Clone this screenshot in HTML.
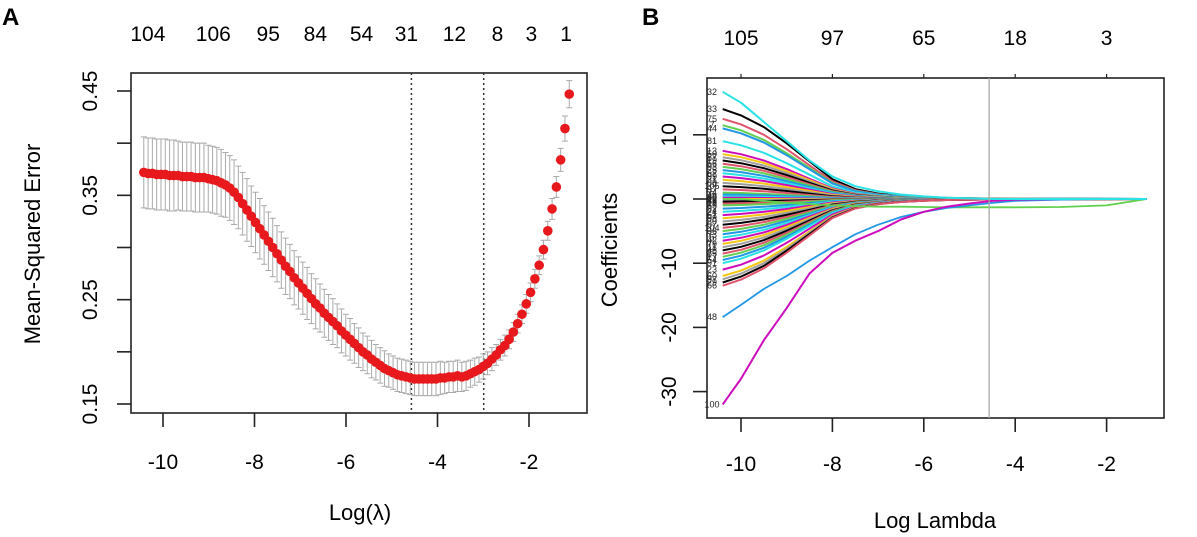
<!DOCTYPE html>
<html><head><meta charset="utf-8"><style>
html,body{margin:0;padding:0;background:#fff;}
svg{display:block;font-family:"Liberation Sans",Arial,sans-serif;}
</style></head><body>
<svg id="fig" width="1197" height="537" viewBox="0 0 1197 537">
<text x="2" y="25" font-size="24" font-weight="bold">A</text>
<text x="642" y="25" font-size="24" font-weight="bold">B</text>
<g id="pa"></g>
<g id="pb"></g>
</svg>
<script>
// ---------- Panel A data ----------
const mseVals=[0.372,0.371,0.371,0.370,0.370,0.370,0.369,0.369,0.369,0.368,0.368,0.368,0.367,0.367,0.367,0.366,
0.365,0.364,0.362,0.360,0.357,0.353,0.348,0.342,0.336,0.330,0.324,0.318,0.312,0.306,0.300,0.294,0.288,0.282,0.277,
0.271,0.266,0.261,0.256,0.251,0.246,0.242,0.237,0.233,0.229,0.225,0.220,0.216,0.212,0.208,0.204,0.200,0.197,0.193,
0.190,0.187,0.184,0.182,0.180,0.178,0.177,0.176,0.175,0.174,0.174,0.174,0.174,0.174,0.174,0.175,0.175,0.176,0.176,
0.177,0.176,0.177,0.179,0.181,0.183,0.186,0.189,0.193,0.197,0.202,0.206,0.212,0.219,0.227,0.236,0.246,0.257,0.270,
0.283,0.298,0.316,0.337,0.358,0.384,0.414,0.447];
const seVals=[0.034,0.034,0.034,0.034,0.034,0.034,0.034,0.034,0.033,0.033,0.033,0.033,0.033,0.033,0.033,0.032,
0.032,0.032,0.032,0.031,0.031,0.031,0.030,0.030,0.030,0.029,0.029,0.029,0.028,0.028,0.028,0.027,0.027,0.027,0.026,
0.026,0.025,0.025,0.025,0.024,0.024,0.023,0.023,0.022,0.022,0.021,0.021,0.020,0.020,0.019,0.019,0.018,0.018,0.018,
0.017,0.017,0.017,0.016,0.016,0.016,0.016,0.016,0.016,0.016,0.016,0.016,0.016,0.016,0.016,0.016,0.015,0.015,0.015,
0.015,0.014,0.014,0.013,0.013,0.012,0.012,0.011,0.011,0.010,0.010,0.010,0.009,0.009,0.009,0.009,0.009,0.009,0.009,
0.009,0.009,0.009,0.010,0.010,0.011,0.012,0.013,0.015];
const lamStart=-10.42, lamEnd=-1.12;
const aXTicks=[-10,-8,-6,-4,-2];
const aYTicks=[0.15,0.25,0.35,0.45];
const aYMinor=[0.20,0.30,0.40];
const aTopLabels=["104","106","95","84","54","31","12","8","3","1"];
const aTopPos=[-10.33,-8.9,-7.7,-6.67,-5.66,-4.68,-3.63,-2.69,-1.95,-1.19];
const aVlines=[-4.57,-2.99];

// ---------- Panel B data ----------
const bGrid=[-10.4,-10,-9.5,-9,-8.5,-8,-7.5,-7,-6.5,-6,-5.5,-5,-4.5,-4,-3,-2,-1.12];
const bProfile=[1,0.93,0.8,0.62,0.42,0.22,0.11,0.06,0.035,0.02,0.012,0.008,0.005,0.003,0.002,0.001,0];
const bStarts=[14,12.5,11.5,11,9,7.5,7,6.5,6,5.5,5,4.5,4,3.5,3,2.5,2,1.5,1,0.7,0.4,0.2,0,-0.2,-0.4,-0.7,-1,-1.5,-2,-2.5,-3,-3.5,-4,-4.5,-5,-5.5,-6,-6.5,-7,-7.5,-8,-8.5,-9,-9.5,-10,-11,-12,-12.5,-13,-13.5];
const bSpecialMagenta=[-32,-28,-22,-17,-11.6,-8.4,-6.5,-5,-3.2,-2,-1.2,-0.7,-0.3,-0.1,0,0,0];
const bSpecialTeal=[-18.4,-16.5,-14,-12,-9.6,-7.5,-5.5,-4,-2.8,-2,-1.4,-1,-0.6,-0.3,-0.1,0,0];
const bSpecialGreen=[0,0,-0.3,-0.6,-0.8,-1,-1.1,-1.2,-1.2,-1.25,-1.3,-1.3,-1.3,-1.3,-1.25,-1,0];
const bSpecialCyan=[16.7,15,12,9,6,3.5,2,1.2,0.7,0.4,0.2,0.1,0,0,0,0,0];
const bXTicks=[-10,-8,-6,-4,-2];
const bYTicks=[-30,-20,-10,0,10];
const bTopLabels=["105","97","65","18","3"];
const bVline=-4.57;
const palette=["black","#DF536B","#61D04F","#2297E6","#28E2E5","#CD0BBC","#F5C710","#9e9e9e"];

const NS="http://www.w3.org/2000/svg";
function mk(parent,tag,attrs,txt){const e=document.createElementNS(NS,tag);for(const k in attrs)e.setAttribute(k,attrs[k]);if(txt!==undefined)e.textContent=txt;parent.appendChild(e);return e;}

// ---------- Panel A ----------
(function(){
const g=document.getElementById('pa');
const L=131,R=587,T=73,B=413;
const ax=v=>163+(v+10)*45.75;
const ay=v=>91+(0.45-v)/0.3*313;
const box=mk(g,'rect',{x:L,y:T,width:R-L,height:B-T,fill:'none',stroke:'#222','stroke-width':1.6});


aXTicks.forEach(t=>{
  const l=mk(g,'line',{x1:ax(t),x2:ax(t),y1:B,y2:B+14,stroke:'#222','stroke-width':1.6});
  
  
  const tx=mk(g,'text',{x:ax(t),y:B+56,'font-size':21,'text-anchor':'middle'},String(t));
  
  
});
aYTicks.concat(aYMinor).forEach(t=>{
  const l=mk(g,'line',{x1:L-14,x2:L,y1:ay(t),y2:ay(t),stroke:'#222','stroke-width':1.6});
  
  
});
aYTicks.forEach(t=>{
  const tx=mk(g,'text',{x:0,y:0,'font-size':21,'text-anchor':'middle',transform:`translate(97,${ay(t)}) rotate(-90)`},t.toFixed(2));
  
  
});
aTopLabels.forEach((s,i)=>{
  const tx=mk(g,'text',{x:ax(aTopPos[i]),y:41,'font-size':21,'text-anchor':'middle'},s);
  
  
});
const xt=mk(g,'text',{x:360,y:520,'font-size':22,'text-anchor':'middle'},'Log(λ)');


const yt=mk(g,'text',{x:0,y:0,'font-size':22,'text-anchor':'middle',transform:'translate(40,244) rotate(-90)'},'Mean-Squared Error');


aVlines.forEach(v=>{
  const l=mk(g,'line',{x1:ax(v),x2:ax(v),y1:T,y2:B,stroke:'#333','stroke-width':1.5,'stroke-dasharray':'2,3'});
  
  
});
const n=mseVals.length;
for(let i=0;i<n;i++){
  const x=ax(lamStart+(lamEnd-lamStart)*i/(n-1));
  const lo=ay(mseVals[i]-seVals[i]),hi=ay(mseVals[i]+seVals[i]);
  const e=mk(g,'path',{d:`M${x},${hi}V${lo}M${x-3},${hi}H${x+3}M${x-3},${lo}H${x+3}`,stroke:'#aaa','stroke-width':1,fill:'none'});
  
  
}
for(let i=0;i<n;i++){
  const x=ax(lamStart+(lamEnd-lamStart)*i/(n-1));
  const c=mk(g,'circle',{cx:x,cy:ay(mseVals[i]),r:4.8,fill:'#e8191c'});
  
  
}
})();

// ---------- Panel B ----------
(function(){
const g=document.getElementById('pb');
const L=707,R=1164,T=78,B=418;
const bx=v=>741+(v+10)*45.7;
const by=v=>199-v*6.42;
const box=mk(g,'rect',{x:L,y:T,width:R-L,height:B-T,fill:'none',stroke:'#222','stroke-width':1.6});


bXTicks.forEach((t,i)=>{
  const l=mk(g,'line',{x1:bx(t),x2:bx(t),y1:B,y2:B+14,stroke:'#222','stroke-width':1.6});
  
  
  const l2=mk(g,'line',{x1:bx(t),x2:bx(t),y1:T-4,y2:T,stroke:'#222','stroke-width':1.2});
  
  
  const tx=mk(g,'text',{x:bx(t),y:B+53,'font-size':21,'text-anchor':'middle'},String(t));
  
  
  const tt=mk(g,'text',{x:bx(t),y:45,'font-size':21,'text-anchor':'middle'},bTopLabels[i]);
  
  
});
bYTicks.forEach(t=>{
  const l=mk(g,'line',{x1:L-14,x2:L,y1:by(t),y2:by(t),stroke:'#222','stroke-width':1.6});
  
  
  const tx=mk(g,'text',{x:0,y:0,'font-size':21,'text-anchor':'middle',transform:`translate(676,${by(t)}) rotate(-90)`},String(t));
  
  
});
const xt=mk(g,'text',{x:935,y:528,'font-size':22,'text-anchor':'middle'},'Log Lambda');


const yt=mk(g,'text',{x:0,y:0,'font-size':22,'text-anchor':'middle',transform:'translate(617,250) rotate(-90)'},'Coefficients');


function path(vals,color,w){
  const d=vals.map((v,i)=>(i?'L':'M')+bx(bGrid[i]).toFixed(1)+','+by(v).toFixed(1)).join('');
  const p=mk(g,'path',{d:d,stroke:color,'stroke-width':w,fill:'none','stroke-linejoin':'round'});
  
  
}
bStarts.forEach((s,i)=>{
  path(bProfile.map(p=>s*p),palette[i%palette.length],2);
});
path(bSpecialGreen,'#61D04F',1.8);
path(bSpecialTeal,'#2297E6',1.8);
path(bSpecialMagenta,'#CD0BBC',2);
path(bSpecialCyan,'#28E2E5',2);
const vl=mk(g,'line',{x1:bx(bVline),x2:bx(bVline),y1:T,y2:B,stroke:'#aaa','stroke-width':1.3});


const labelVals=[16.7,14].concat(bStarts.slice(1)).concat([-18.4,-32]);
labelVals.forEach((v,i)=>{
  const s=i===0?"32":i===1?"33":v===-18.4?"48":v===-32?"100":String(((i*37)%105)+1);
  const t=mk(g,'text',{x:712,y:by(v)+3,'font-size':9,'text-anchor':'middle',fill:'#222'},s);
  
  
});
})();
</script>
</body></html>
